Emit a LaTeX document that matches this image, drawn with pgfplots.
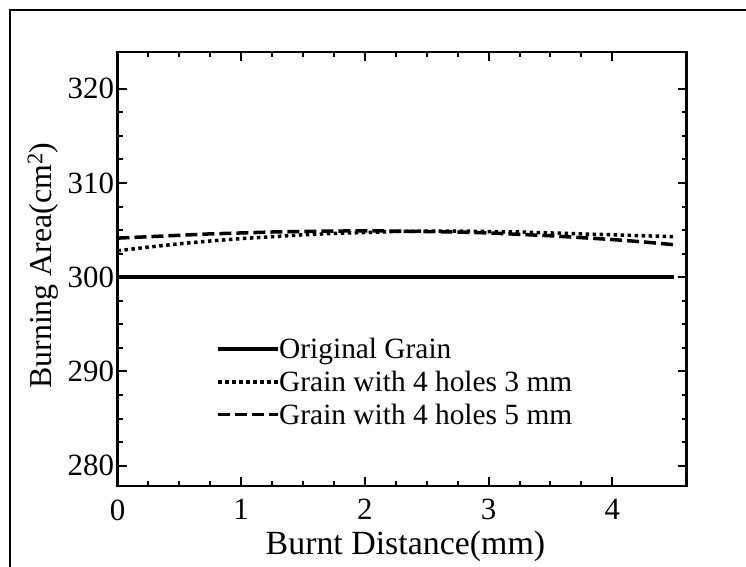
\documentclass[border=0pt]{standalone}
\usepackage{fontspec}
\setmainfont{Liberation Serif}
\usepackage{pgfplots}
\pgfplotsset{compat=1.18}

\pgfplotstableread{
x     orig   h3      h5
0     300    302.8   304.15
0.25  300    303.2   304.30
0.5   300    303.55  304.45
0.75  300    303.85  304.60
1     300    304.10  304.70
1.25  300    304.30  304.80
1.5   300    304.50  304.85
1.75  300    304.65  304.90
2     300    304.75  304.92
2.25  300    304.85  304.90
2.5   300    304.90  304.85
2.75  300    304.90  304.80
3     300    304.85  304.70
3.25  300    304.80  304.55
3.5   300    304.70  304.40
3.75  300    304.60  304.20
4     300    304.50  304.00
4.25  300    304.40  303.75
4.5   300    304.30  303.45
}\grain

\begin{document}
\begin{tikzpicture}[x=1bp,y=1bp]
\useasboundingbox (0,0) rectangle (746,567);
% figure frame (left and top edge only visible)
\draw[line width=2.5bp] (10,-5) -- (10,557) -- (751,557);
\begin{axis}[
  at={(117.5bp,81bp)}, anchor=south west,
  scale only axis, width=569bp, height=434bp,
  xmin=0, xmax=4.6, ymin=277.85, ymax=323.9,
  xtick={0,1,2,3,4}, ytick={280,290,...,320},
  minor x tick num=3, minor y tick num=3,
  tick align=inside, major tick length=9bp, minor tick length=5bp,
  axis line style={line width=2.5bp},
  every tick/.style={line width=2bp,black},
  /pgf/number format/assume math mode=true,
  tick label style={font=\fontsize{31}{31}\selectfont},
  xticklabel style={yshift=-10bp},
  xlabel={Burnt Distance(mm)}, ylabel={Burning Area(cm\textsuperscript{2})},
  xlabel style={font=\fontsize{34}{34}\selectfont,
    at={(axis description cs:0.506,-0.139)},anchor=center},
  ylabel style={font=\fontsize{32}{32}\selectfont,
    at={(axis description cs:-0.131,0.508)},anchor=center},
  legend style={draw=none,fill=none,at={(axis description cs:0.174,0.240)},anchor=west,
    font=\fontsize{29.5}{29.5}\selectfont,inner sep=0pt,row sep=11bp,column sep=-1bp,
    nodes={inner xsep=0pt,inner ysep=0pt}},
  legend cell align=left,
  legend image code/.code={\draw[#1] (0bp,0bp) -- (60bp,0bp);},
]
\addplot[black,line width=3.5bp] table[x=x,y=orig] {\grain};
\addplot[black,line width=3.5bp,dash pattern=on 3.5bp off 3.5bp] table[x=x,y=h3] {\grain};
\addplot[black,line width=3.5bp,dash pattern=on 12bp off 5bp] table[x=x,y=h5] {\grain};
\legend{Original Grain,Grain with 4 holes 3 mm,Grain with 4 holes 5 mm}
\end{axis}
\end{tikzpicture}
\end{document}
